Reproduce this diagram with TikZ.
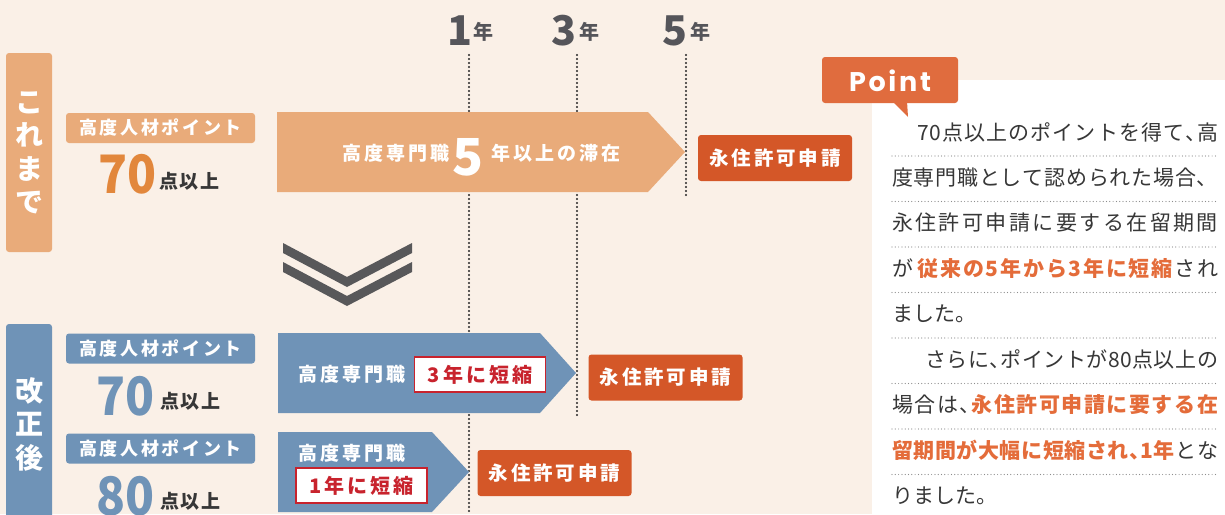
\documentclass[tikz,border=0pt]{standalone}
\usepackage{fontspec}
\setmainfont{Noto Sans CJK JP}
\newfontfamily\jp{Noto Sans CJK JP}
\newfontfamily\jpls{Noto Sans CJK JP}[LetterSpace=15]
\newfontfamily\jplss{Noto Sans CJK JP}[LetterSpace=8]
\newfontfamily\latinls{Poppins}[LetterSpace=10]
\newcommand{\tou}{{\addfontfeature{RawFeature=+halt}、}}
\def\jusA#1{#1\jusB}
\def\jusB#1{\ifx#1\relax\else\hskip 0pt plus 1pt #1\expandafter\jusB\fi}
\newcommand{\jus}[1]{\jusA#1\relax}
\newcommand{\gl}{\hskip 0pt plus 1pt}
\newcommand{\jline}[1]{\hbox to 326pt{#1}}
\definecolor{bgc}{RGB}{250,240,231}
\definecolor{orl}{RGB}{233,171,122}
\definecolor{blu}{RGB}{111,147,183}
\definecolor{redbox}{RGB}{212,87,40}
\definecolor{pointc}{RGB}{224,108,62}
\definecolor{digor}{RGB}{226,135,60}
\definecolor{grayt}{RGB}{85,85,90}
\definecolor{redt}{RGB}{200,35,45}
\definecolor{hl}{RGB}{228,108,58}
\definecolor{bodyt}{RGB}{55,55,55}
\definecolor{chev}{RGB}{88,88,90}
\begin{document}
\begin{tikzpicture}[x=1pt,y=-1pt,
  txt/.style={inner sep=0pt,outer sep=0pt},
  tab/.style={rounded corners=3pt},
  tabtext/.style={txt,text=white,align=center,font=\jp\bfseries\fontsize{28}{33.5}\selectfont},
  lbl/.style={rounded corners=3pt,minimum width=189pt,minimum height=30pt,inner sep=0pt,text=white,font=\jpls\bfseries\fontsize{18}{18}\selectfont},
  bignum/.style={txt,anchor=base east,font=\jp\bfseries\fontsize{53}{53}\selectfont},
  unit/.style={txt,anchor=base west,text=bodyt,font=\jplss\bfseries\fontsize{19}{19}\selectfont},
  arrowtxt/.style={txt,text=white,font=\jpls\bfseries\fontsize{19}{19}\selectfont},
  shortbox/.style={draw=redt,line width=1.3pt,fill=white,minimum width=131pt,minimum height=35pt,inner sep=0pt,text=redt,font=\jpls\bfseries\fontsize{20}{20}\selectfont},
  apply/.style={fill=redbox,rounded corners=3pt,minimum width=154pt,minimum height=46pt,inner sep=0pt,text=white,font=\jpls\bfseries\fontsize{19.5}{19.5}\selectfont},
  yearnum/.style={txt,anchor=base,text=grayt,font=\jp\bfseries\fontsize{41}{41}\selectfont},
  yearunit/.style={txt,text=grayt,font=\jp\bfseries\fontsize{20}{20}\selectfont},
  guide/.style={line width=2.2pt,dash pattern=on 0pt off 4pt,line cap=round,black!85},
  sep/.style={line width=1.2pt,dash pattern=on 0pt off 3.3pt,line cap=round,black!45},
  pl/.style={txt,anchor=west,text=bodyt,font=\jp\fontsize{21}{21}\selectfont},
]
\useasboundingbox (0,0) rectangle (1225,514);
\fill[bgc] (0,0) rectangle (1225,514);

% year labels
\node[yearnum] (y1) at (460,45) {1};
\node[yearunit] (y1u) at (483,32) {年};
\node[yearnum] (y3) at (564,45) {3};
\node[yearunit] (y3u) at (589,32) {年};
\node[yearnum] (y5) at (675,45) {5};
\node[yearunit] (y5u) at (700,32) {年};

% guide lines
\coordinate (g1a) at (469,55); \coordinate (g1b) at (469,514);
\coordinate (g3a) at (577,55); \coordinate (g3b) at (577,415);
\coordinate (g5a) at (686,55); \coordinate (g5b) at (686,197);
\draw[guide] (g1a) -- (g1b);
\draw[guide] (g3a) -- (g3b);
\draw[guide] (g5a) -- (g5b);

% side tabs
\fill[tab,orl] (6,53) rectangle (52,252);
\node[tabtext] (tabA) at (29,153) {こ\\れ\\ま\\で};
\fill[tab,blu] (6,324) rectangle (52,540);
\node[tabtext] (tabB) at (29,424) {改\\正\\後};

% row 1
\node[lbl,fill=orl] (l1) at (160.5,128) {高度人材ポイント};
\node[bignum,text=digor] (n1) at (157,193) {\scalebox{0.9}[1]{70}};
\node[unit] (u1) at (159,188.5) {点以上};
\fill[orl] (277,112) -- (648,112) -- (685,152) -- (648,192) -- (277,192) -- cycle;
\node[arrowtxt] (a1a) at (396,153) {高度専門職};
\node[txt,anchor=base,text=white,font=\jp\bfseries\fontsize{51}{51}\selectfont] (a1b) at (468.5,175) {5};
\node[arrowtxt] (a1c) at (556,153) {年以上の滞在};
\node[apply] (ap1) at (775,158) {永住許可申請};

% chevrons
\fill[chev] (283,243) -- (347,277) -- (412,243) -- (412,253) -- (347,287) -- (283,253) -- cycle;
\fill[chev] (283,262) -- (347,296) -- (412,262) -- (412,272) -- (347,306) -- (283,272) -- cycle;

% row 2
\node[lbl,fill=blu] (l2) at (160.5,348.5) {高度人材ポイント};
\node[bignum,text=blu] (n2) at (155,415) {\scalebox{0.9}[1]{70}};
\node[unit] (u2) at (160,408.5) {点以上};
\fill[blu] (278,333) -- (540,333) -- (576,373) -- (540,413) -- (278,413) -- cycle;
\node[arrowtxt] (a2a) at (352,374) {高度専門職};
\node[shortbox] (s2) at (480,374.5) {3年に短縮};
\node[apply] (ap2) at (665.5,377.5) {永住許可申請};

% row 3
\node[lbl,fill=blu] (l3) at (160.5,448.5) {高度人材ポイント};
\node[bignum,text=blu] (n3) at (155,515) {\scalebox{0.9}[1]{80}};
\node[unit] (u3) at (160,508.5) {点以上};
\fill[blu] (278,432) -- (432,432) -- (469,472) -- (432,512) -- (278,512) -- cycle;
\node[arrowtxt] (a3a) at (352,453) {高度専門職};
\node[shortbox] (s3) at (361.5,485.5) {1年に短縮};
\node[apply] (ap3) at (554.5,473) {永住許可申請};

% point panel
\fill[white] (872,80) rectangle (1225,514);
\foreach \yy in {156,201.5,247,292.5,338,383.5,429,474.5}
  \draw[sep] (892,\yy) -- (1216,\yy);
\node[pl] (p1) at (892,132) {\jline{\hspace*{25pt}\jus{70点以上のポイントを得て\tou 高}}};
\node[pl] (p2) at (892,177.5) {\jline{\jus{度専門職として認められた場合、}}};
\node[pl] (p3) at (892,223) {\jline{\jus{永住許可申請に要する在留期間}}};
\node[pl] (p4) at (892,268.5) {\jline{が\hskip 3pt plus 1pt{\color{hl}\bfseries\jus{従来の5年から3年に短縮}}\gl\jus{され}}};
\node[pl] (p5) at (892,314) {ました。};
\node[pl] (p6) at (892,359.5) {\jline{\hspace*{33pt}\jus{さらに\tou ポイントが80点以上の}}};
\node[pl] (p7) at (892,405) {\jline{\jus{場合は\tou}\gl{\color{hl}\bfseries\jus{永住許可申請に要する在}}}};
\node[pl] (p8) at (892,450.5) {\jline{{\color{hl}\bfseries\jus{留期間が大幅に短縮され\tou 1年}}\gl\jus{とな}}};
\node[pl] (p9) at (892,496) {りました。};

\fill[pointc,rounded corners=3pt] (822,57) rectangle (958,103);
\fill[pointc] (892,101) -- (908,117) -- (907,101) -- cycle;
\node[txt,text=white,font=\latinls\bfseries\fontsize{27}{27}\selectfont] (pt) at (890,81) {Point};
\end{tikzpicture}
\end{document}
